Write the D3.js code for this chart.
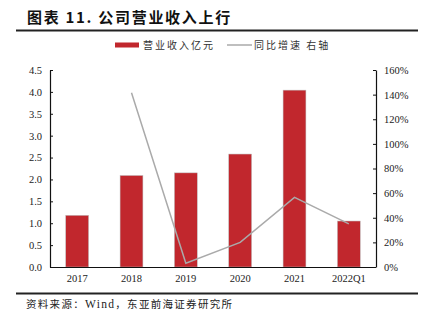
<!DOCTYPE html>
<html><head><meta charset="utf-8">
<script src="https://cdn.jsdelivr.net/npm/d3@7"></script>
<style>body{margin:0;background:#fff}svg{display:block}</style>
</head><body>
<svg id="c" width="424" height="324"></svg>
<script>
const categories = ["2017","2018","2019","2020","2021","2022Q1"];
const revenue = [1.18, 2.09, 2.15, 2.58, 4.04, 1.05];
const growth = [null, 1.416, 0.03, 0.20, 0.566, 0.35];
const leftTicks = [0,0.5,1,1.5,2,2.5,3,3.5,4,4.5];
const rightTicks = [0,0.2,0.4,0.6,0.8,1.0,1.2,1.4,1.6];
const title = "图表 11. 公司营业收入上行";
const legendLabels = ["营业收入亿元","同比增速 右轴"];
const sourcePre = "资料来源：";
const sourceMid = "Wind";
const sourcePost = "，东亚前海证券研究所";

const svg = d3.select("#c");
const L=50, R=376, T=70, B=267;
const serif = "'Liberation Serif','Times New Roman',serif";
const cjk = "'Noto Sans CJK SC',sans-serif";

const x = d3.scaleBand().domain(categories).range([L,R]).paddingInner(0.58).paddingOuter(0.29);
const y = d3.scaleLinear().domain([0,4.5]).range([B,T]);
const y2 = d3.scaleLinear().domain([0,1.6]).range([B,T]);

// title
svg.append("text").attr("x",27).attr("y",23).attr("font-family",cjk).attr("font-weight","bold")
  .attr("font-size",15).attr("letter-spacing",1.7).attr("fill","#111").text(title);
svg.append("line").attr("x1",16).attr("x2",418).attr("y1",30.5).attr("y2",30.5).attr("stroke","#222").attr("stroke-width",2);

// legend
svg.append("rect").attr("x",115).attr("y",42.5).attr("width",24).attr("height",5).attr("fill","#c1272d");
svg.append("text").attr("x",143).attr("y",48.5).attr("font-family",cjk).attr("font-size",10).attr("letter-spacing",2)
  .attr("fill","#333").text(legendLabels[0]);
svg.append("line").attr("x1",227).attr("x2",252).attr("y1",45).attr("y2",45).attr("stroke","#aaa").attr("stroke-width",1.5);
svg.append("text").attr("x",254).attr("y",48.5).attr("font-family",cjk).attr("font-size",10).attr("letter-spacing",2)
  .attr("fill","#333").text(legendLabels[1]);

// bars
svg.append("g").selectAll("rect").data(revenue).join("rect")
  .attr("x",(d,i)=>x(categories[i])).attr("width",x.bandwidth())
  .attr("y",d=>y(d)).attr("height",d=>B-y(d))
  .attr("fill","#c1272d").attr("stroke","#bbb").attr("stroke-width",0.5);

// line
const pts = growth.map((g,i)=>({c:categories[i],g})).filter(d=>d.g!==null);
svg.append("path").datum(pts)
  .attr("d",d3.line().x(d=>x(d.c)+x.bandwidth()/2).y(d=>y2(d.g)))
  .attr("fill","none").attr("stroke","#aaa").attr("stroke-width",1.5);

// axes
const la = svg.append("g").attr("transform",`translate(${L},0)`)
  .call(d3.axisLeft(y).tickValues(leftTicks).tickFormat(d3.format(".1f")).tickSizeInner(-3).tickSizeOuter(0).tickPadding(8));
const ra = svg.append("g").attr("transform",`translate(${R},0)`)
  .call(d3.axisRight(y2).tickValues(rightTicks).tickFormat(d3.format(".0%")).tickSizeInner(-3).tickSizeOuter(0).tickPadding(8));
const ba = svg.append("g").attr("transform",`translate(0,${B})`)
  .call(d3.axisBottom(x).tickSize(0).tickPadding(8));
[la,ra,ba].forEach(a=>{
  a.selectAll("path").attr("stroke","#111").attr("stroke-width",1.2);
  a.selectAll("line").attr("stroke","#111");
  a.selectAll("text").attr("font-family",serif).attr("font-size",10.5).attr("fill","#222");
});
ba.select("path").attr("d",`M${L},0.5H${R}`);

// footer
svg.append("line").attr("x1",16).attr("x2",418).attr("y1",293.5).attr("y2",293.5).attr("stroke","#222").attr("stroke-width",2);
const src = svg.append("text").attr("x",26).attr("y",308).attr("font-family",cjk).attr("font-size",10.5)
  .attr("letter-spacing",1.3).attr("fill","#222");
src.append("tspan").text(sourcePre);
src.append("tspan").attr("font-family",serif).attr("font-size",11.5).text(sourceMid);
src.append("tspan").text(sourcePost);
</script>
</body></html>
